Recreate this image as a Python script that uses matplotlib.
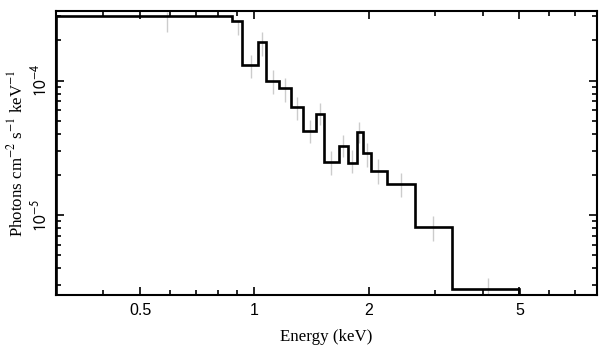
import numpy as np
import matplotlib.pyplot as plt
from matplotlib.ticker import FixedLocator, FixedFormatter, NullFormatter

# model (step) : bin edges [keV] and flux per bin
edges = [0.3, 0.875, 0.93, 1.025, 1.076, 1.164, 1.252, 1.347, 1.458, 1.531,
         1.667, 1.761, 1.86, 1.929, 2.025, 2.233, 2.647, 3.315, 5.0]
model = [3.02e-4, 2.77e-4, 1.30e-4, 1.92e-4, 9.9e-5, 8.75e-5, 6.32e-5,
         4.23e-5, 5.61e-5, 2.48e-5, 3.27e-5, 2.45e-5, 4.12e-5, 2.88e-5,
         2.12e-5, 1.70e-5, 8.19e-6, 2.82e-6]

# data error bars (grey)
err_e = [0.588, 0.906, 0.978, 1.050, 1.121, 1.205, 1.297, 1.400, 1.488,
         1.594, 1.715, 1.807, 1.890, 1.976, 2.123, 2.441, 2.966, 4.134]
err_hi = [3.23e-4, 2.82e-4, 1.55e-4, 2.28e-4, 1.19e-4, 1.04e-4, 7.54e-5,
          5.08e-5, 6.81e-5, 3.01e-5, 3.94e-5, 3.04e-5, 4.94e-5, 3.43e-5,
          2.59e-5, 2.05e-5, 9.9e-6, 3.42e-6]
err_lo = [2.30e-4, 2.18e-4, 1.05e-4, 1.53e-4, 7.94e-5, 6.92e-5, 5.05e-5,
          3.43e-5, 4.67e-5, 1.98e-5, 2.71e-5, 2.05e-5, 3.43e-5, 2.29e-5,
          1.69e-5, 1.36e-5, 6.44e-6, 2.51e-6]

xmajor = [0.5, 1, 2, 5]
xlabels = ['0.5', '1', '2', '5']
xminor = [0.3, 0.4, 0.6, 0.7, 0.8, 0.9, 3, 4, 6, 7, 8]
ymajor = [1e-5, 1e-4]
ylabels = [r'$10^{-5}$', r'$10^{-4}$']


def main():
    fig = plt.figure(figsize=(6.08, 3.57), dpi=100)
    ax = fig.add_axes([0.0921, 0.1737, 0.8896, 0.7955])

    ax.vlines(err_e, err_lo, err_hi, color='#cccccc', lw=1.0, zorder=1)
    ax.stairs(model, edges, baseline=1e-7, color='black', lw=1.9, zorder=2)

    ax.set_xscale('log')
    ax.set_yscale('log')
    ax.set_xlim(0.3, 8.0)
    ax.set_ylim(2.54e-6, 3.29e-4)

    ax.xaxis.set_major_locator(FixedLocator(xmajor))
    ax.xaxis.set_major_formatter(FixedFormatter(xlabels))
    ax.xaxis.set_minor_locator(FixedLocator(xminor))
    ax.xaxis.set_minor_formatter(NullFormatter())
    ax.yaxis.set_major_locator(FixedLocator(ymajor))
    ax.yaxis.set_major_formatter(FixedFormatter(ylabels))
    yminor = [m * 10.0 ** k for k in (-6, -5, -4) for m in range(2, 10)]
    ax.yaxis.set_minor_locator(FixedLocator(yminor))
    ax.yaxis.set_minor_formatter(NullFormatter())

    ax.tick_params(which='both', direction='in', top=True, right=True,
                   width=1.2)
    ax.tick_params(which='major', length=6)
    ax.tick_params(which='minor', length=3.5)
    ax.tick_params(axis='x', pad=6, labelsize=11.5)
    ax.tick_params(axis='y', pad=5, labelsize=12.5)
    for t in ax.get_xticklabels():
        t.set_fontfamily('Liberation Sans')
    for t in ax.get_yticklabels():
        t.set_fontfamily('Liberation Sans')
        t.set_math_fontfamily('stixsans')
        t.set_rotation(90)
        t.set_verticalalignment('center')
    for s in ax.spines.values():
        s.set_linewidth(1.5)

    ax.set_xlabel('Energy (keV)', family='Liberation Serif', fontsize=12.2,
                  labelpad=8)
    ax.set_ylabel(r'Photons cm$^{-2}$ s$^{-1}$ keV$^{-1}$',
                  family='Liberation Serif', fontsize=12.2, labelpad=2,
                  math_fontfamily='stix')

    fig.savefig('out.png', dpi=100)


if __name__ == '__main__':
    main()
